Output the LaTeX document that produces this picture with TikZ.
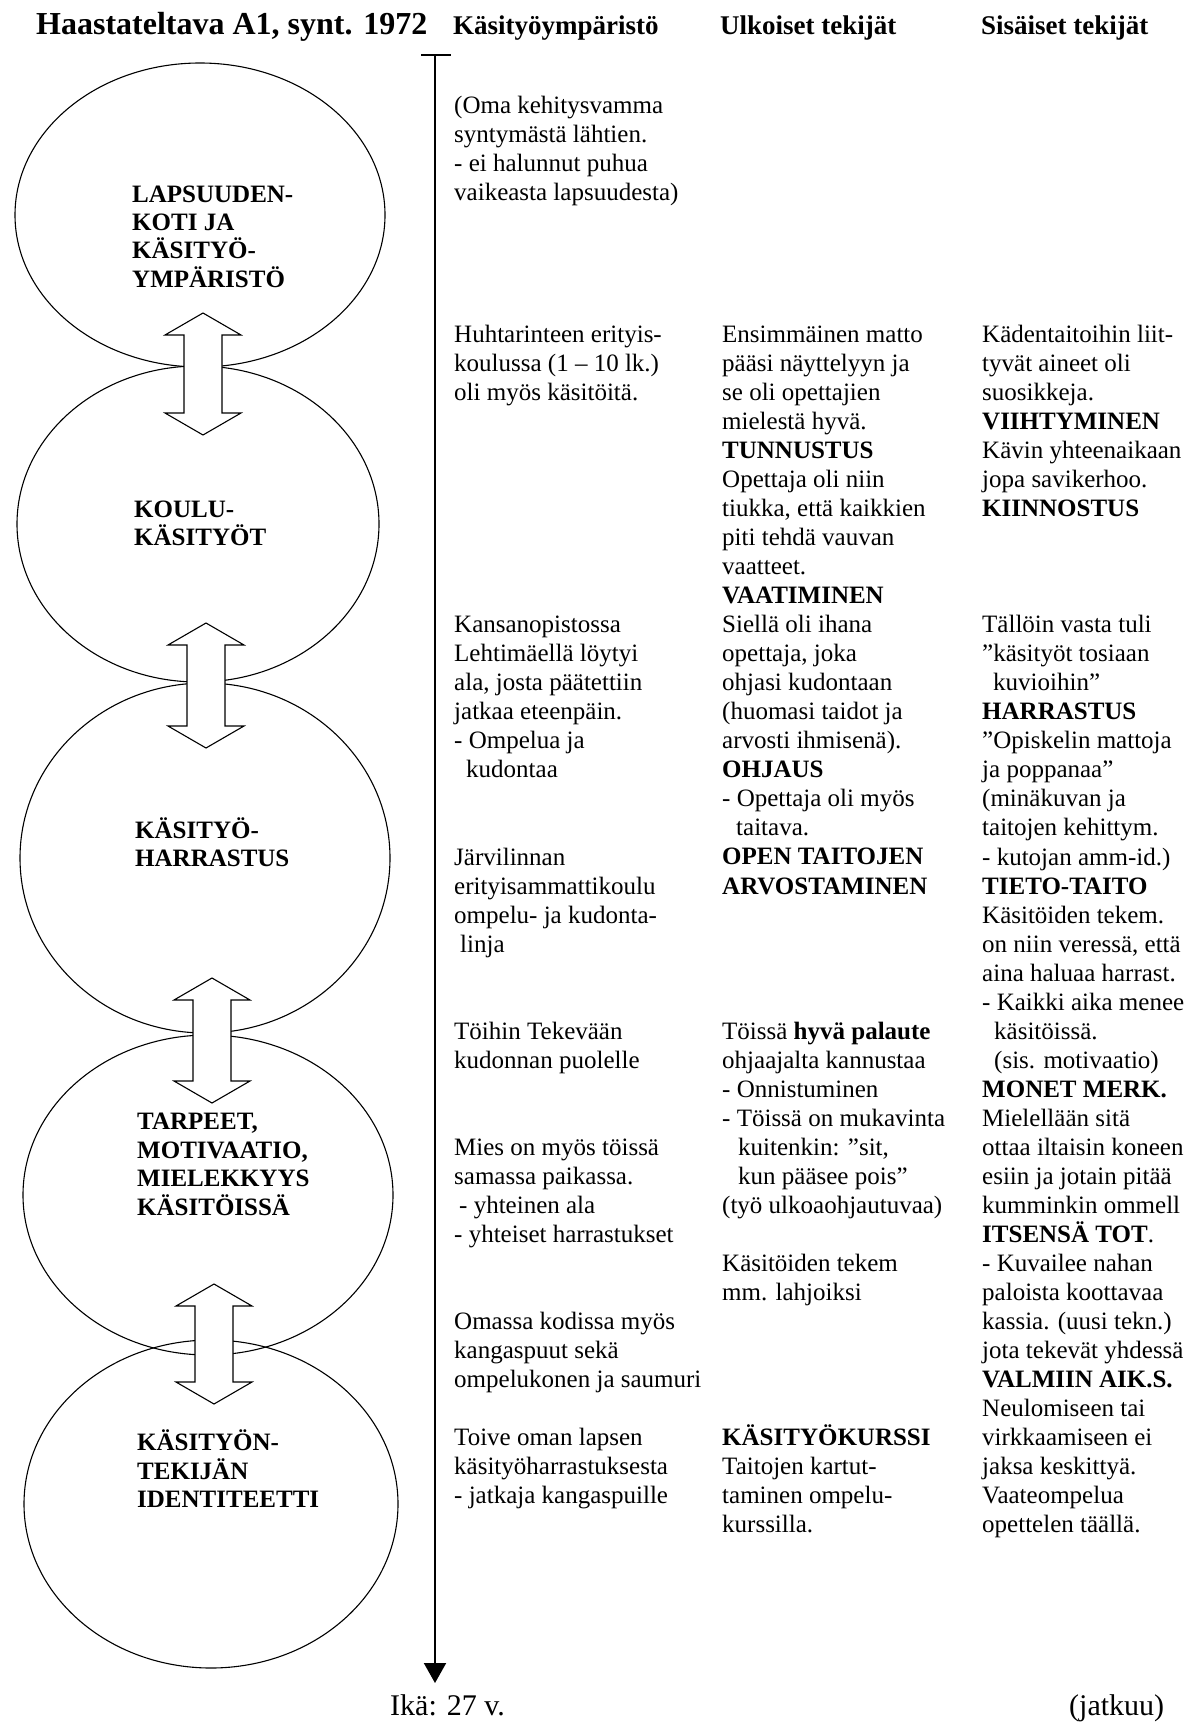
\documentclass[tikz,border=0pt]{standalone}
\usepackage{fontspec}
\setmainfont{Liberation Serif}
\usetikzlibrary{shapes.geometric,arrows.meta}

% type sizes (1 unit = 1pt, y grows downward)
\newcommand\bodyfs{\fontsize{25}{29.01}\selectfont}
\newcommand\lblfs{\fontsize{25}{28.4}\selectfont\bfseries}
\newcommand\fst{\rule{0pt}{23pt}}
\newcommand\ind[1]{\hspace*{#1pt}}

% vertical two-headed block arrow: centre x, top tip y, bottom tip y
\newcommand\twoway[3]{%
  \draw[line width=1.1pt, fill=white]
    (#1,#2) -- (#1+38,#2+22) -- (#1+19,#2+22) -- (#1+19,#3-22) -- (#1+38,#3-22)
    -- (#1,#3) -- (#1-38,#3-22) -- (#1-19,#3-22) -- (#1-19,#2+22) -- (#1-38,#2+22) -- cycle;}

\tikzset{
  stage/.style={ellipse, draw, line width=1.1pt, inner sep=0pt},
  stagelabel/.style={anchor=north west, inner sep=0pt, align=left, font=\lblfs},
  txt/.style={anchor=north west, inner sep=0pt, align=left, font=\bodyfs},
  colhead/.style={anchor=base west, inner sep=0pt, font=\fontsize{27}{30}\selectfont\bfseries},
  foot/.style={anchor=base west, inner sep=0pt, font=\fontsize{30}{34}\selectfont},
}

\begin{document}
\begin{tikzpicture}[x=1pt, y=-1pt]
\useasboundingbox (0,0) rectangle (1195,1724);

% headings
\node[anchor=base west, inner sep=0pt, font=\fontsize{32}{36}\selectfont\bfseries] (title) at (36,34) {Haastateltava A1, synt. 1972};
\node[colhead] (h1) at (453,34) {Käsityöympäristö};
\node[colhead] (h2) at (720,34) {Ulkoiset tekijät};
\node[colhead] (h3) at (981,34) {Sisäiset tekijät};

% stages
\node[stage, minimum width=370, minimum height=304] (c1) at (200,215) {};
\node[stage, minimum width=362, minimum height=316] (c2) at (198,524) {};
\node[stage, minimum width=370, minimum height=350] (c3) at (205,858) {};
\node[stage, minimum width=370, minimum height=320] (c4) at (208,1195) {};
\node[stage, minimum width=374, minimum height=328] (c5) at (211,1504) {};

\twoway{203}{313}{435}
\twoway{206}{623}{748}
\twoway{212}{978}{1103}
\twoway{214}{1284}{1404}

\node[stagelabel] (l1) at (132,178.8) {\fst LAPSUUDEN-\\KOTI JA\\KÄSITYÖ-\\YMPÄRISTÖ};
\node[stagelabel] (l2) at (134,494.3) {\fst KOULU-\\KÄSITYÖT};
\node[stagelabel] (l3) at (135,815.3) {\fst KÄSITYÖ-\\HARRASTUS};
\node[stagelabel] (l4) at (137,1106.7) {\fst TARPEET,\\MOTIVAATIO,\\MIELEKKYYS\\KÄSITÖISSÄ};
\node[stagelabel] (l5) at (137,1427.5) {\fst KÄSITYÖN-\\TEKIJÄN\\IDENTITEETTI};

% time axis
\coordinate (ax-top) at (435,55);
\coordinate (ax-end) at (435,1683);
\coordinate (bar-l) at (421,55);
\coordinate (bar-r) at (451,55);
\draw[line width=2.4pt] (bar-l) -- (bar-r);
\draw[line width=2pt, -{Triangle[width=22pt,length=20pt]}] (ax-top) -- (ax-end);

% column 1: craft environment
\node[txt] (k1) at (454,90.5) {\fst(Oma kehitysvamma\\syntymästä lähtien.\\- ei halunnut puhua\\vaikeasta lapsuudesta)};
\node[txt] (k2) at (454,319.6) {\fst Huhtarinteen erityis-\\koulussa (1 – 10 lk.)\\oli myös käsitöitä.};
\node[txt] (k3) at (454,609.7) {\fst Kansanopistossa\\Lehtimäellä löytyi\\ala, josta päätettiin\\jatkaa eteenpäin.\\- Ompelua ja\\\ind{12}kudontaa};
\node[txt] (k4) at (454,841.8) {\fst Järvilinnan\\erityisammattikoulu\\ompelu- ja kudonta-\\\ind{6}linja};
\node[txt] (k5) at (454,1015.8) {\fst Töihin Tekevään\\kudonnan puolelle};
\node[txt] (k6) at (454,1131.9) {\fst Mies on myös töissä\\samassa paikassa.\\\ind{5}- yhteinen ala\\- yhteiset harrastukset};
\node[txt] (k7) at (454,1305.9) {\fst Omassa kodissa myös\\kangaspuut sekä\\ompelukonen ja saumuri};
\node[txt] (k8) at (454,1422.0) {\fst Toive oman lapsen\\käsityöharrastuksesta\\- jatkaja kangaspuille};

% column 2: outer factors
\node[txt] (u1) at (722,319.6) {\fst Ensimmäinen matto\\pääsi näyttelyyn ja\\se oli opettajien\\mielestä hyvä.\\\textbf{TUNNUSTUS}\\Opettaja oli niin\\tiukka, että kaikkien\\piti tehdä vauvan\\vaatteet.\\\textbf{VAATIMINEN}\\Siellä oli ihana\\opettaja, joka\\ohjasi kudontaan\\(huomasi taidot ja\\arvosti ihmisenä).\\\textbf{OHJAUS}\\- Opettaja oli myös\\\ind{14}taitava.\\\textbf{OPEN TAITOJEN}\\\textbf{ARVOSTAMINEN}};
\node[txt] (u2) at (722,1015.8) {\fst Töissä \textbf{hyvä palaute}\\ohjaajalta kannustaa\\- Onnistuminen\\- Töissä on mukavinta\\\ind{16}kuitenkin: ”sit,\\\ind{16}kun pääsee pois”\\(työ ulkoaohjautuvaa)};
\node[txt] (u3) at (722,1247.9) {\fst Käsitöiden tekem\\mm. lahjoiksi};
\node[txt] (u4) at (722,1422.0) {\fst\textbf{KÄSITYÖKURSSI}\\Taitojen kartut-\\taminen ompelu-\\kurssilla.};

% column 3: inner factors
\node[txt] (s1) at (982,319.6) {\fst Kädentaitoihin liit-\\tyvät aineet oli\\suosikkeja.\\\textbf{VIIHTYMINEN}\\Kävin yhteenaikaan\\jopa savikerhoo.\\\textbf{KIINNOSTUS}};
\node[txt] (s2) at (982,609.7) {\fst Tällöin vasta tuli\\”käsityöt tosiaan\\\ind{11}kuvioihin”\\\textbf{HARRASTUS}\\”Opiskelin mattoja\\ja poppanaa”\\(minäkuvan ja\\taitojen kehittym.\\- kutojan amm-id.)\\\textbf{TIETO-TAITO}\\Käsitöiden tekem.\\on niin veressä, että\\aina haluaa harrast.\\- Kaikki aika menee\\\ind{12}käsitöissä.\\\ind{12}(sis. motivaatio)\\\textbf{MONET MERK.}\\Mielellään sitä\\ottaa iltaisin koneen\\esiin ja jotain pitää\\kumminkin ommell\\\textbf{ITSENSÄ TOT}.\\- Kuvailee nahan\\paloista koottavaa\\kassia. (uusi tekn.)\\jota tekevät yhdessä\\\textbf{VALMIIN AIK.S.}\\Neulomiseen tai\\virkkaamiseen ei\\jaksa keskittyä.\\Vaateompelua\\opettelen täällä.};

% foot
\node[foot] (age) at (390,1715) {Ikä: 27 v.};
\node[foot] (cont) at (1069,1715) {(jatkuu)};
\end{tikzpicture}
\end{document}
